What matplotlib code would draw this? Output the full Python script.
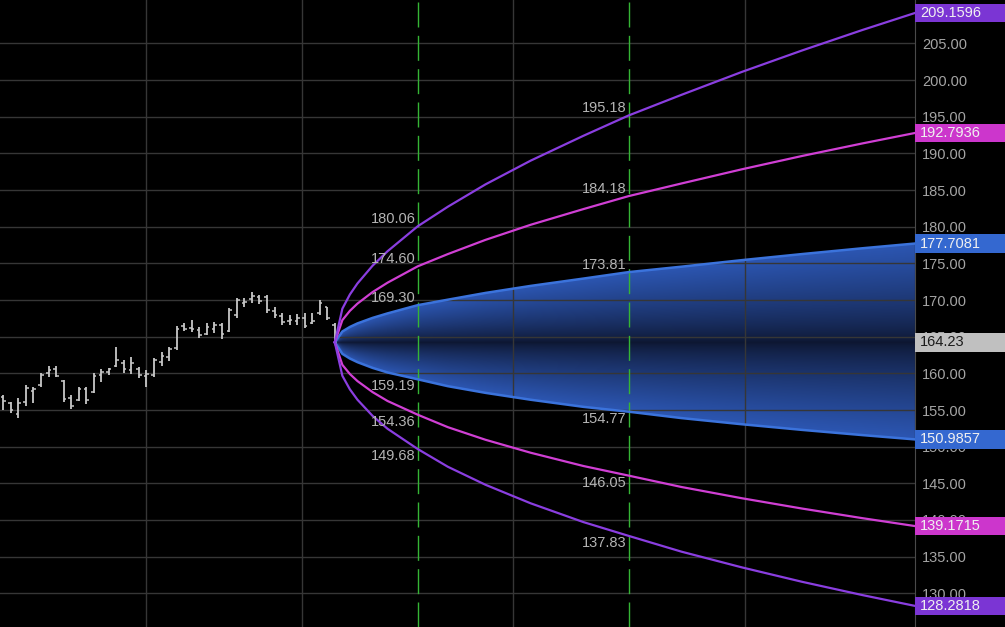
import numpy as np
import matplotlib
matplotlib.use("Agg")
import matplotlib.pyplot as plt
from matplotlib.patches import Rectangle, Polygon
from matplotlib import transforms

plt.rcParams['font.family'] = ['Liberation Sans', 'DejaVu Sans']

# daily OHLC bars
bar_open = [156.8, 155.9, 154.5, 156.1, 157.6, 158.4, 160.0, 160.6, 159.0, 156.6,
            156.4, 157.8, 157.4, 159.8, 160.2, 161.0, 161.4, 160.5, 160.6, 159.6,
            159.8, 161.6, 162.2, 163.4, 166.4, 166.2, 165.9, 165.4, 166.0, 166.6,
            165.8, 167.9, 169.6, 170.1, 170.4, 170.4, 168.5, 167.8, 167.1, 167.1,
            167.6, 166.9, 168.2, 169.0, 166.6]
bar_high = [157.05, 156.09, 156.64, 158.41, 158.14, 160.05, 161.00, 161.00, 159.09, 157.05,
            158.14, 158.14, 160.05, 160.59, 160.73, 163.60, 161.82, 162.23, 160.87, 160.46,
            162.10, 162.91, 163.60, 166.46, 166.87, 167.28, 166.32, 166.87, 167.00, 166.87,
            168.92, 170.28, 170.28, 171.10, 170.69, 170.69, 169.05, 168.23, 167.96, 168.10,
            168.23, 168.23, 170.01, 169.05, 166.87]
bar_low = [155.00, 154.59, 153.91, 155.55, 155.96, 158.14, 159.50, 159.50, 156.09, 155.14,
           156.23, 155.82, 157.32, 158.82, 159.77, 160.87, 160.05, 159.91, 159.37, 158.14,
           159.50, 161.00, 161.69, 163.19, 165.78, 165.64, 164.82, 165.23, 165.51, 164.69,
           165.64, 167.55, 169.05, 169.60, 169.46, 168.23, 167.55, 166.60, 166.60, 166.60,
           166.19, 166.73, 167.96, 167.28, 164.14]
bar_close = [156.2, 155.0, 156.0, 158.0, 157.9, 159.8, 160.4, 159.7, 156.5, 155.6,
             157.8, 156.3, 159.7, 160.2, 160.6, 161.8, 160.6, 161.4, 159.8, 159.9,
             161.8, 162.4, 163.3, 166.1, 166.1, 166.0, 165.2, 166.3, 166.6, 165.4,
             168.6, 170.0, 169.8, 170.5, 169.9, 168.6, 167.9, 167.0, 167.3, 167.5,
             166.5, 167.2, 169.6, 167.6, 164.23]
last_close = 164.23

# projection cone, bars after the last close
cone_offsets = [0, 1, 2, 3, 5, 7, 11, 15, 20, 26, 33, 39, 46, 54, 62, 70, 77]
purple_up = [164.23, 168.82, 170.76, 172.26, 174.67, 176.66, 180.06, 182.73, 185.78,
             189.02, 192.41, 195.18, 197.99, 201.11, 204.04, 206.83, 209.16]
magenta_up = [164.23, 167.26, 168.53, 169.51, 171.08, 172.37, 174.60, 176.27, 178.21,
              180.27, 182.41, 184.18, 185.90, 187.83, 189.65, 191.36, 192.79]
blue_up = [164.23, 165.71, 166.33, 166.81, 167.56, 168.18, 169.30, 170.05, 170.97,
           171.93, 172.93, 173.81, 174.55, 175.44, 176.27, 177.06, 177.71]
blue_dn = [164.23, 162.66, 162.02, 161.53, 160.75, 160.12, 159.19, 158.25, 157.34,
           156.40, 155.43, 154.77, 153.90, 153.06, 152.29, 151.58, 150.99]
magenta_dn = [164.23, 161.16, 159.91, 158.95, 157.45, 156.23, 154.36, 152.66, 150.94,
              149.17, 147.36, 146.05, 144.50, 142.97, 141.56, 140.25, 139.17]
purple_dn = [164.23, 159.67, 157.82, 156.41, 154.21, 152.44, 149.68, 147.26, 144.80,
             142.27, 139.71, 137.83, 135.68, 133.54, 131.57, 129.76, 128.28]

marker_offsets = [11, 39]
marker_labels = [
    ["180.06", "174.60", "169.30", "159.19", "154.36", "149.68"],
    ["195.18", "184.18", "173.81", "154.77", "146.05", "137.83"],
]

end_labels = ["209.1596", "192.7936", "177.7081", "164.23", "150.9857", "139.1715", "128.2818"]
end_values = [209.1596, 192.7936, 177.7081, 164.23, 150.9857, 139.1715, 128.2818]

y_ticks = list(range(130, 206, 5))
grid_x = [19.0, 39.7, 67.6, 98.5]

PURPLE = '#8a3ee0'
MAGENTA = '#d03fd4'
BLUE = '#3b73dc'
GRID = '#363636'

fig = plt.figure(figsize=(10.05, 6.27), dpi=100, facecolor='black')
ax = fig.add_axes([0, 0, 0.9104, 1])
ax.set_facecolor('black')

n = len(bar_high)
bar_x = np.arange(n)
cone_x = bar_x[-1] + np.array(cone_offsets)
y0, y1 = 125.4, 210.93

# gradient fill of the inner band
xs = np.linspace(cone_x[0], cone_x[-1], 700)
ys = np.linspace(y0, y1, 700)
up = np.interp(xs, cone_x, blue_up)[None, :]
dn = np.interp(xs, cone_x, blue_dn)[None, :]
Y = ys[:, None]
d = np.where(Y >= last_close,
             (Y - last_close) / np.maximum(up - last_close, 1e-6),
             (last_close - Y) / np.maximum(last_close - dn, 1e-6))
t = np.clip(d, 0, 1) ** 0.75
dark = np.array([13, 22, 48]) / 255.0
bright = np.array([44, 86, 178]) / 255.0
img = dark + (bright - dark) * t[..., None]
im = ax.imshow(img, extent=[xs[0], xs[-1], y0, y1], origin='lower',
               aspect='auto', zorder=1, interpolation='bilinear')
poly = Polygon(np.column_stack([np.r_[cone_x, cone_x[::-1]],
                                np.r_[blue_up, blue_dn[::-1]]]),
               closed=True, facecolor='none', edgecolor='none')
ax.add_patch(poly)
im.set_clip_path(poly)

# grid
for v in y_ticks:
    ax.axhline(v, color=GRID, lw=1, zorder=2)
for gx in grid_x:
    ax.axvline(gx, color=GRID, lw=1, zorder=2)

# dashed markers
for off in marker_offsets:
    ax.axvline(bar_x[-1] + off, color='#35b535', lw=1, dashes=(18, 6), zorder=3)

# price bars
ax.vlines(bar_x, bar_low, bar_high, color='#c8c8c8', lw=1.3, zorder=4)
ax.hlines(bar_open, bar_x - 0.35, bar_x, color='#c8c8c8', lw=1.1, zorder=4)
ax.hlines(bar_close, bar_x, bar_x + 0.35, color='#c8c8c8', lw=1.1, zorder=4)

# cone curves
ax.plot(cone_x, blue_up, color=BLUE, lw=1.8, zorder=5)
ax.plot(cone_x, blue_dn, color=BLUE, lw=1.8, zorder=5)
ax.plot(cone_x, magenta_up, color=MAGENTA, lw=1.6, zorder=5)
ax.plot(cone_x, magenta_dn, color=MAGENTA, lw=1.6, zorder=5)
ax.plot(cone_x, purple_up, color=PURPLE, lw=1.6, zorder=5)
ax.plot(cone_x, purple_dn, color=PURPLE, lw=1.6, zorder=5)

# values at the dashed markers
for off, labels in zip(marker_offsets, marker_labels):
    lx = bar_x[-1] + off - 0.25
    for i, lab in enumerate(labels):
        ax.text(lx, float(lab), lab, ha='right', va='bottom' if i < 3 else 'top',
                color='#b4b4b4', fontsize=10.5, zorder=6)

ax.set_xlim(-0.44, cone_x[-1])
ax.set_ylim(y0, y1)

ax.yaxis.tick_right()
ax.set_yticks(y_ticks)
ax.set_yticklabels([f"{v:.2f}" for v in y_ticks])
ax.tick_params(axis='y', length=0, pad=5, labelcolor='#a4a4a4', labelsize=10.5)
ax.set_xticks([])
for side in ['top', 'left', 'bottom']:
    ax.spines[side].set_visible(False)
ax.spines['right'].set_color('#4a4a4a')

# value boxes on the price axis
box_colors = ['#7b35d4', '#cc36cc', '#3468d0', '#c0c0c0', '#3468d0', '#cc36cc', '#7b35d4']
box_text = ['#f0f0f0', '#f0f0f0', '#f0f0f0', '#1c1c1c', '#f0f0f0', '#f0f0f0', '#f0f0f0']
trans = transforms.blended_transform_factory(ax.transAxes, ax.transData)
for lab, v, bc, tc in zip(end_labels, end_values, box_colors, box_text):
    ax.add_patch(Rectangle((1.0, v - 1.25), 0.1, 2.5, transform=trans,
                           facecolor=bc, edgecolor='none', clip_on=False, zorder=10))
    ax.text(1.0055, v, lab, transform=trans, ha='left', va='center',
            color=tc, fontsize=10.5, clip_on=False, zorder=11)

fig.savefig('out.png', dpi=100, facecolor='black')
